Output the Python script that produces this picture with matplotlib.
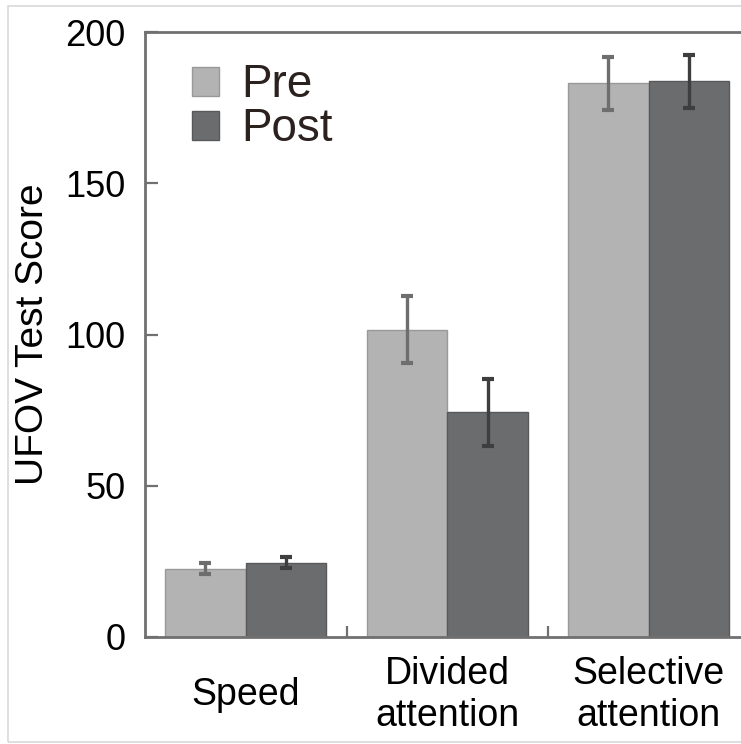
import matplotlib
matplotlib.use("Agg")
import matplotlib.pyplot as plt
from matplotlib.patches import Rectangle
import numpy as np

plt.rcParams['font.family'] = ['Liberation Sans', 'DejaVu Sans']

categories = ["Speed", "Divided\nattention", "Selective\nattention"]
pre = [22.5, 101.6, 183.0]
pre_err = [1.8, 11.0, 8.7]
post = [24.6, 74.3, 183.7]
post_err = [1.9, 11.0, 8.8]
series_labels = ["Pre", "Post"]

x = np.arange(len(categories))
w = 0.4

fig = plt.figure(figsize=(7.41, 7.44), dpi=100)
ax = fig.add_axes([145 / 741, 107 / 744, 604.5 / 741, 605 / 744])

# light frame around the whole figure
fig.patches.append(Rectangle((8 / 741, 2 / 744), 1.2, 736 / 744, transform=fig.transFigure,
                             fill=False, edgecolor="#d9d9d9", lw=1.2))

ax.bar(x - w / 2, pre, w, color="#b3b3b3", edgecolor="#999999", lw=1, label=series_labels[0])
ax.bar(x + w / 2, post, w, color="#6b6c6e", edgecolor="#58595b", lw=1, label=series_labels[1])
ax.errorbar(x - w / 2, pre, yerr=pre_err, fmt="none", ecolor="#6e6e6e",
            elinewidth=2.4, capsize=4.4, capthick=3)
ax.errorbar(x + w / 2, post, yerr=post_err, fmt="none", ecolor="#3e3e3e",
            elinewidth=2.4, capsize=4.4, capthick=3)

ax.set_xlim(-0.5, 2.5)
ax.set_ylim(0, 200)

for s in ["left", "top", "bottom"]:
    ax.spines[s].set_color("#707070")
    ax.spines[s].set_linewidth(2)
ax.spines["right"].set_visible(False)

ax.set_yticks([0, 50, 100, 150, 200])
ax.tick_params(axis="y", direction="in", length=9, width=1.6, color="#707070",
               labelsize=26, pad=14)

ax.set_xticks(x)
ax.set_xticklabels(categories, fontsize=27, linespacing=1.22)
ax.set_xticks([0.5, 1.5], minor=True)
ax.tick_params(axis="x", which="major", length=0, pad=42)
ax.tick_params(axis="x", which="minor", direction="in", length=8, width=1.6, color="#707070")
for lab in ax.get_xticklabels():
    lab.set_verticalalignment("center")

ax.set_ylabel("UFOV Test Score", fontsize=28, labelpad=10)

leg = ax.legend(loc="upper left", bbox_to_anchor=(0.078, 0.948), frameon=False, fontsize=33,
                handlelength=0.58, handleheight=0.58, handletextpad=0.5,
                labelspacing=0.0, borderpad=0, borderaxespad=0)
for t in leg.get_texts():
    t.set_color("#2b2220")

fig.savefig("out.png", dpi=100)
